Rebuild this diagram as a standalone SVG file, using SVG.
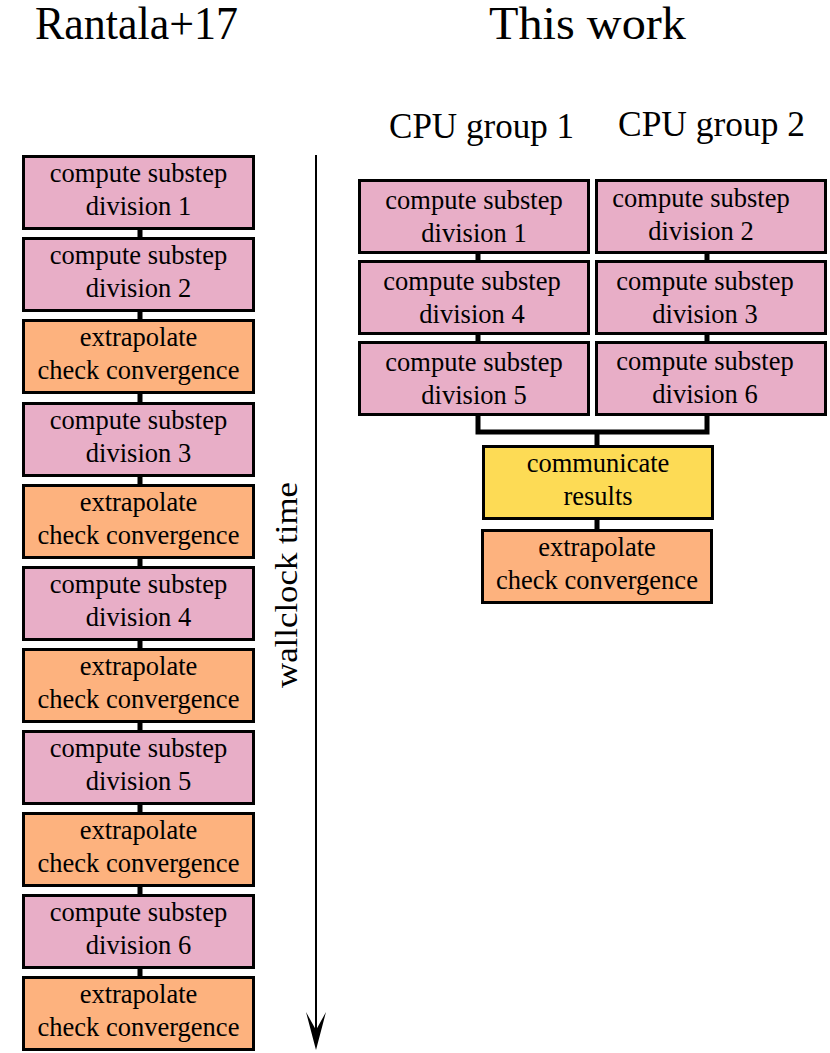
<svg xmlns="http://www.w3.org/2000/svg" width="830" height="1053" viewBox="0 0 830 1053" font-family="'Liberation Serif', 'DejaVu Serif', serif">
<defs>
<style>
.t{font-size:26.5px;text-anchor:middle}
.box{stroke:#000;stroke-width:3}
.p{fill:#E8AEC7}
.o{fill:#FDB27E}
.y{fill:#FDDB55}
.c{stroke:#000;stroke-width:5;fill:none}
</style>
</defs>
<rect width="830" height="1053" fill="#fff"/>
<g id="titles" font-family="Liberation Serif">
<text x="35" y="39" font-size="46" textLength="203" lengthAdjust="spacingAndGlyphs">Rantala+17</text>
<text x="489" y="39" font-size="46" textLength="197" lengthAdjust="spacingAndGlyphs">This work</text>
<text x="389" y="138" font-size="36" textLength="185" lengthAdjust="spacingAndGlyphs">CPU group 1</text>
<text x="618" y="136" font-size="36" textLength="187" lengthAdjust="spacingAndGlyphs">CPU group 2</text>
</g>
<g id="connectors">
<path class="c" d="M140 229V239M140 312V321M140 394V404M140 477V487M140 559V569M140 641V651M140 723V733M140 805V815M140 887V897M140 969V979"/>
<path class="c" d="M478 253V261M478 334V342M707 253V261M707 334V342"/>
<path class="c" d="M478 415V432H707V415M597 432V446M597 520V530"/>
<line x1="316" y1="155" x2="316" y2="1032" stroke="#000" stroke-width="2"/>
<path d="M316 1050L306 1012L316 1030L326 1012Z" fill="#000"/>
</g>
<text transform="translate(297 585) rotate(-90)" font-size="32" text-anchor="middle" textLength="206" lengthAdjust="spacingAndGlyphs">wallclock time</text>
<g id="L1"><rect class="box p" x="23.5" y="156.5" width="230" height="72"/><text class="t" x="138.5" y="182">compute substep</text><text class="t" x="138.5" y="215">division 1</text></g>
<g id="L2"><rect class="box p" x="23.5" y="238.5" width="230" height="72"/><text class="t" x="138.5" y="264">compute substep</text><text class="t" x="138.5" y="297">division 2</text></g>
<g id="L3"><rect class="box o" x="23.5" y="320.5" width="230" height="72"/><text class="t" x="138.5" y="346">extrapolate</text><text class="t" x="138.5" y="379">check convergence</text></g>
<g id="L4"><rect class="box p" x="23.5" y="403.5" width="230" height="72"/><text class="t" x="138.5" y="429">compute substep</text><text class="t" x="138.5" y="462">division 3</text></g>
<g id="L5"><rect class="box o" x="23.5" y="485.5" width="230" height="72"/><text class="t" x="138.5" y="511">extrapolate</text><text class="t" x="138.5" y="544">check convergence</text></g>
<g id="L6"><rect class="box p" x="23.5" y="567.5" width="230" height="72"/><text class="t" x="138.5" y="593">compute substep</text><text class="t" x="138.5" y="626">division 4</text></g>
<g id="L7"><rect class="box o" x="23.5" y="649.5" width="230" height="72"/><text class="t" x="138.5" y="675">extrapolate</text><text class="t" x="138.5" y="708">check convergence</text></g>
<g id="L8"><rect class="box p" x="23.5" y="731.5" width="230" height="72"/><text class="t" x="138.5" y="757">compute substep</text><text class="t" x="138.5" y="790">division 5</text></g>
<g id="L9"><rect class="box o" x="23.5" y="813.5" width="230" height="72"/><text class="t" x="138.5" y="839">extrapolate</text><text class="t" x="138.5" y="872">check convergence</text></g>
<g id="L10"><rect class="box p" x="23.5" y="895.5" width="230" height="72"/><text class="t" x="138.5" y="921">compute substep</text><text class="t" x="138.5" y="954">division 6</text></g>
<g id="L11"><rect class="box o" x="23.5" y="977.5" width="230" height="72"/><text class="t" x="138.5" y="1003">extrapolate</text><text class="t" x="138.5" y="1036">check convergence</text></g>
<g id="R1"><rect class="box p" x="359.5" y="180.5" width="229" height="72"/><text class="t" x="474" y="209">compute substep</text><text class="t" x="474" y="242">division 1</text></g>
<g id="R2"><rect class="box p" x="359.5" y="261.5" width="229" height="72"/><text class="t" x="472" y="290">compute substep</text><text class="t" x="472" y="323">division 4</text></g>
<g id="R3"><rect class="box p" x="359.5" y="342.5" width="229" height="72"/><text class="t" x="474" y="371">compute substep</text><text class="t" x="474" y="404">division 5</text></g>
<g id="R4"><rect class="box p" x="596.5" y="180.5" width="229" height="72"/><text class="t" x="701" y="207">compute substep</text><text class="t" x="701" y="240">division 2</text></g>
<g id="R5"><rect class="box p" x="596.5" y="261.5" width="229" height="72"/><text class="t" x="705" y="290">compute substep</text><text class="t" x="705" y="323">division 3</text></g>
<g id="R6"><rect class="box p" x="596.5" y="342.5" width="229" height="72"/><text class="t" x="705" y="370">compute substep</text><text class="t" x="705" y="403">division 6</text></g>
<g id="C"><rect class="box y" x="483.5" y="446.5" width="229" height="72"/><text class="t" x="598" y="472">communicate</text><text class="t" x="598" y="505">results</text></g>
<g id="E"><rect class="box o" x="482.5" y="530.5" width="229" height="72"/><text class="t" x="597" y="556">extrapolate</text><text class="t" x="597" y="589">check convergence</text></g>
</svg>
